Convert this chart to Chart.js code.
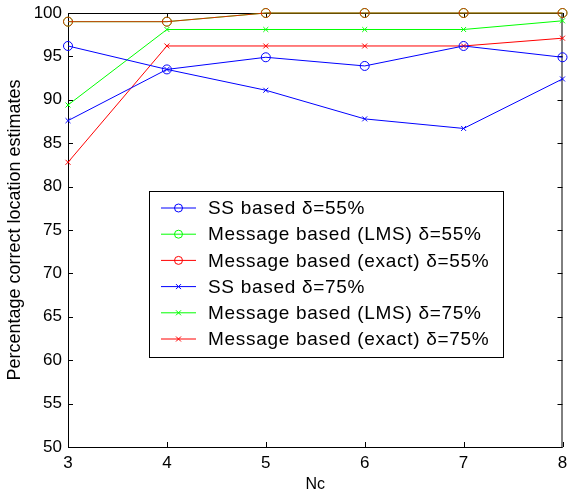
<!DOCTYPE html>
<html lang="en">
    <head>
        <meta charset="UTF-8" />
        <title>Percentage correct location estimates vs Nc</title>
        <script src="https://cdn.jsdelivr.net/npm/chart.js"></script>
        <style>
            body {
                margin: 0;
                background: white;
            }
            #wrap {
                width: 568px;
                height: 494px;
            }
        </style>
    </head>
    <body>
        <div id="wrap"><canvas id="plot"></canvas></div>

        <script>
            // values
            const nc = [3, 4, 5, 6, 7, 8];
            const ss55 = [96.2, 93.5, 94.9, 93.9, 96.2, 94.9];
            const lms55 = [99, 99, 100, 100, 100, 100];
            const exact55 = [99, 99, 100, 100, 100, 100];
            const ss75 = [87.6, 93.5, 91.1, 87.8, 86.7, 92.4];
            const lms75 = [89.4, 98.1, 98.1, 98.1, 98.1, 99.1];
            const exact75 = [82.8, 96.2, 96.2, 96.2, 96.2, 97.1];

            const labels = [
                'SS based \u03b4=55%',
                'Message based (LMS) \u03b4=55%',
                'Message based (exact) \u03b4=55%',
                'SS based \u03b4=75%',
                'Message based (LMS) \u03b4=75%',
                'Message based (exact) \u03b4=75%',
            ];

            const FONT = 'Arial, "Liberation Sans", sans-serif';

            function pts(ys) {
                return nc.map((x, i) => ({ x: x, y: ys[i] }));
            }

            function series(label, ys, color, marker, legendColor, order) {
                return {
                    label: label,
                    data: pts(ys),
                    borderColor: color,
                    backgroundColor: 'transparent',
                    borderWidth: 1,
                    pointStyle: marker,
                    pointRadius: marker === 'circle' ? 4.5 : 3.5,
                    pointBorderWidth: 1,
                    pointBorderColor: color,
                    pointBackgroundColor: 'transparent',
                    tension: 0,
                    clip: false,
                    legendColor: legendColor || color,
                    order: order || 0,
                };
            }

            // box + inward ticks under the lines, legend on top
            const matlabFrame = {
                id: 'matlabFrame',
                beforeDatasetsDraw(chart) {
                    const c = chart.ctx;
                    const a = chart.chartArea;
                    const xs = chart.scales.x;
                    const ys = chart.scales.y;
                    c.save();
                    c.strokeStyle = '#000';
                    c.lineWidth = 1;
                    c.strokeRect(a.left + 0.5, a.top + 0.5, a.right - a.left - 1, a.bottom - a.top);
                    c.beginPath();
                    xs.ticks.forEach((t) => {
                        const px = Math.round(xs.getPixelForValue(t.value)) + 0.5;
                        c.moveTo(px, a.bottom);
                        c.lineTo(px, a.bottom - 5);
                        c.moveTo(px, a.top);
                        c.lineTo(px, a.top + 5);
                    });
                    ys.ticks.forEach((t) => {
                        const py = Math.round(ys.getPixelForValue(t.value)) + 0.5;
                        c.moveTo(a.left, py);
                        c.lineTo(a.left + 5, py);
                        c.moveTo(a.right, py);
                        c.lineTo(a.right - 5, py);
                    });
                    c.stroke();
                    c.restore();
                },
                afterDatasetsDraw(chart) {
                    const c = chart.ctx;
                    const a = chart.chartArea;
                    const bx = a.left + 81;
                    const by = a.top + 178;
                    const bw = 354;
                    const bh = 166;
                    c.save();
                    c.lineWidth = 1;
                    c.fillStyle = '#fff';
                    c.fillRect(bx, by, bw, bh);
                    c.strokeStyle = '#000';
                    c.strokeRect(bx + 0.5, by + 0.5, bw, bh);
                    c.font = '19px ' + FONT;
                    c.letterSpacing = '0.7px';
                    c.textBaseline = 'middle';
                    chart.data.datasets.forEach((ds, i) => {
                        const y = by + 17 + i * 26.2;
                        c.strokeStyle = ds.legendColor;
                        c.beginPath();
                        c.moveTo(bx + 12, y);
                        c.lineTo(bx + 47, y);
                        c.stroke();
                        c.beginPath();
                        if (ds.pointStyle === 'circle') {
                            c.arc(bx + 29.5, y, 4, 0, Math.PI * 2);
                        } else {
                            c.moveTo(bx + 27, y - 2.5);
                            c.lineTo(bx + 32, y + 2.5);
                            c.moveTo(bx + 32, y - 2.5);
                            c.lineTo(bx + 27, y + 2.5);
                        }
                        c.stroke();
                        c.fillStyle = '#000';
                        c.fillText(ds.label, bx + 59, y + 1);
                    });
                    c.restore();
                },
            };

            new Chart(document.getElementById('plot'), {
                type: 'line',
                data: {
                    datasets: [
                        series(labels[0], ss55, '#0000ff', 'circle'),
                        series(labels[1], lms55, '#00ff00', 'circle', '#00ff00', 1),
                        series(labels[2], exact55, 'rgba(255,0,0,0.8)', 'circle', '#ff0000'),
                        series(labels[3], ss75, '#0000ff', 'crossRot'),
                        series(labels[4], lms75, '#00ff00', 'crossRot'),
                        series(labels[5], exact75, '#ff0000', 'crossRot'),
                    ],
                },
                options: {
                    responsive: true,
                    maintainAspectRatio: false,
                    animation: false,
                    layout: { padding: { top: 13, right: 2, left: 0, bottom: 0 } },
                    plugins: {
                        legend: { display: false },
                        tooltip: { enabled: false },
                    },
                    scales: {
                        x: {
                            type: 'linear',
                            min: 3,
                            max: 8,
                            grid: { display: false, drawTicks: false },
                            border: { display: false },
                            ticks: {
                                stepSize: 1,
                                color: '#000',
                                padding: 6,
                                font: { family: FONT, size: 17 },
                            },
                            title: {
                                display: true,
                                text: 'Nc',
                                color: '#000',
                                padding: { top: 0, bottom: 0 },
                                font: { family: FONT, size: 16 },
                            },
                            afterFit(scale) {
                                scale.height = 47;
                                scale.paddingLeft = 0;
                                scale.paddingRight = 0;
                            },
                        },
                        y: {
                            min: 50,
                            max: 100,
                            grid: { display: false, drawTicks: false },
                            border: { display: false },
                            ticks: {
                                stepSize: 5,
                                color: '#000',
                                padding: 6,
                                font: { family: FONT, size: 17 },
                            },
                            title: {
                                display: true,
                                text: 'Percentage correct location estimates',
                                color: '#000',
                                padding: { top: 4, bottom: 0 },
                                font: { family: FONT, size: 18 },
                            },
                            afterFit(scale) {
                                scale.width = 68;
                                scale.paddingTop = 0;
                                scale.paddingBottom = 0;
                            },
                        },
                    },
                },
                plugins: [matlabFrame],
            });
        </script>
    </body>
</html>
